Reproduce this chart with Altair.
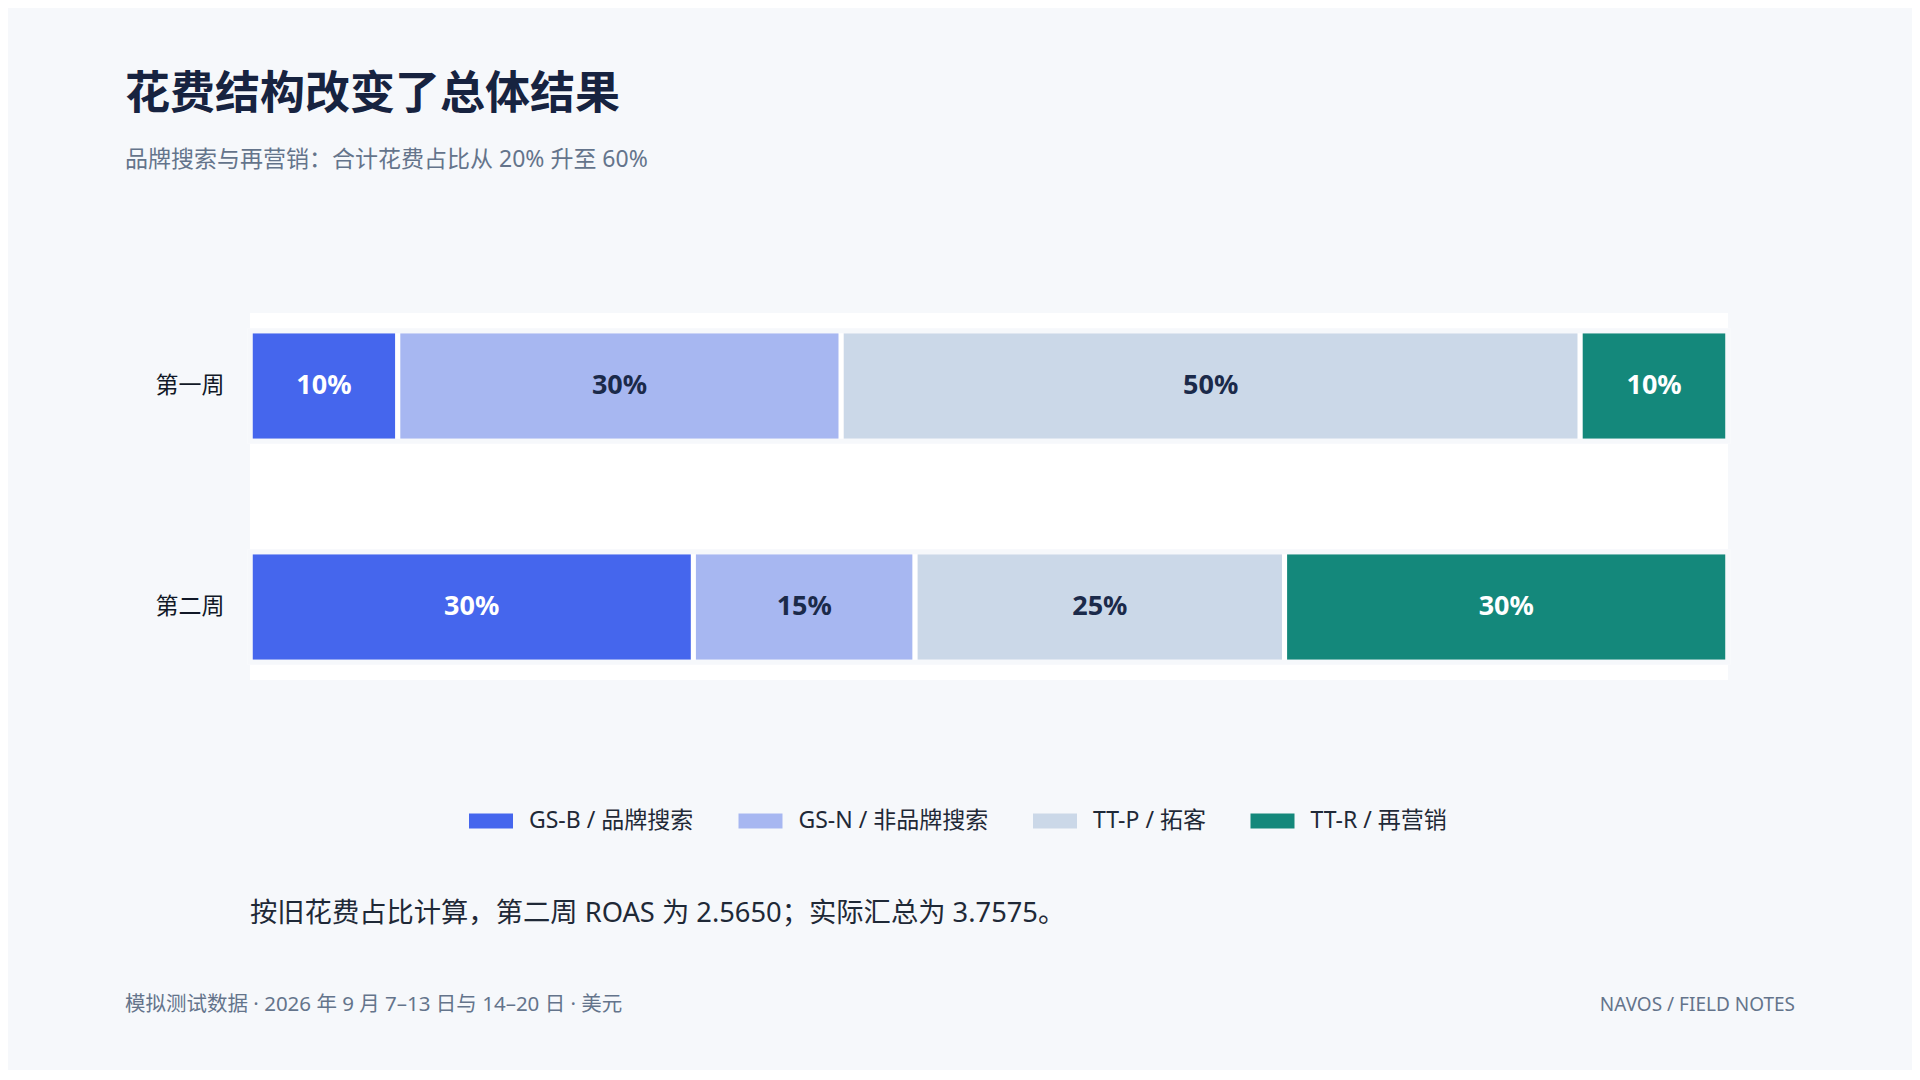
import pandas as pd
import altair as alt

weeks = ["第一周", "第二周"]
channels = ["GS-B / 品牌搜索", "GS-N / 非品牌搜索", "TT-P / 拓客", "TT-R / 再营销"]
week1_share = [10, 30, 50, 10]
week2_share = [30, 15, 25, 30]
colors = ["#4566ED", "#A7B7F1", "#CBD8E8", "#14887B"]
light_text = [channels[0], channels[3]]   # labels drawn in white

title = "花费结构改变了总体结果"
subtitle = "品牌搜索与再营销：合计花费占比从 20% 升至 60%"
note = "按旧花费占比计算，第二周 ROAS 为 2.5650；实际汇总为 3.7575。"
footer_left = "模拟测试数据 · 2026 年 9 月 7–13 日与 14–20 日 · 美元"
footer_right = "NAVOS / FIELD NOTES"

BG = "#F6F8FB"
INK = "#172340"
MUTED = "#64748B"
FONT = "'Noto Sans', 'Noto Sans CJK SC', sans-serif"

rows = []
for week, shares in zip(weeks, [week1_share, week2_share]):
    start = 0
    for i, (ch, s) in enumerate(zip(channels, shares)):
        rows.append({"week": week, "channel": ch, "order": i, "share": s,
                     "start": start, "end": start + s, "mid": start + s / 2,
                     "label": f"{s}%"})
        start += s
data = pd.DataFrame(rows)
tracks = pd.DataFrame({"week": weeks, "lo": [0, 0], "hi": [100, 100]})

xscale = alt.Scale(domain=[0, 100], nice=False)
yscale = alt.Scale(domain=weeks, paddingInner=0.5, paddingOuter=0.08)

segments = alt.Chart(data).mark_bar(stroke="white", strokeWidth=5).encode(
    x=alt.X("start:Q", scale=xscale, axis=None),
    x2="end:Q",
    y=alt.Y("week:N", scale=yscale, axis=alt.Axis(
        title=None, domain=False, ticks=False, labelPadding=26,
        labelFont=FONT, labelFontSize=23, labelColor="#111827")),
    color=alt.Color("channel:N", scale=alt.Scale(domain=channels, range=colors),
                    legend=alt.Legend(
                        title=None, orient="none", legendX=219, legendY=486,
                        direction="horizontal",
                        symbolType="M-1,-0.34L1,-0.34L1,0.34L-1,0.34Z",
                        symbolSize=1936, symbolStrokeWidth=0, symbolOpacity=1,
                        labelFont=FONT, labelFontSize=23, labelColor="#1F2937",
                        labelOffset=16, columnPadding=44.5, labelLimit=400)),
)

# outline in page colour hides the white stroke on the outer edges
track = alt.Chart(tracks).mark_bar(fillOpacity=0, stroke=BG, strokeWidth=5).encode(
    x=alt.X("lo:Q", scale=xscale, axis=None),
    x2="hi:Q",
    y=alt.Y("week:N", scale=yscale),
)

labels = alt.Chart(data).mark_text(font=FONT, fontSize=27, fontWeight="bold").encode(
    x=alt.X("mid:Q", scale=xscale, axis=None),
    y=alt.Y("week:N", scale=yscale),
    text="label:N",
    color=alt.condition(alt.FieldOneOfPredicate(field="channel", oneOf=light_text),
                        alt.value("white"), alt.value("#1B2A4A")),
)


def text_layer(txt, x, y, size, color, weight="normal", align="left"):
    return alt.Chart(pd.DataFrame({"t": [txt]})).mark_text(
        align=align, baseline="middle", font=FONT, fontSize=size,
        fontWeight=weight, color=color,
    ).encode(text="t:N", x=alt.value(x), y=alt.value(y))


chart = alt.layer(
    segments, track, labels,
    text_layer(title, -125, -218, 45, INK, weight="bold"),
    text_layer(subtitle, -125, -153, 23, MUTED),
    text_layer(note, 0, 601, 27.3, "#1F2937"),
    text_layer(footer_left, -125, 692, 20.5, MUTED),
    text_layer(footer_right, 1545, 692, 19, MUTED, align="right"),
).properties(
    width=1478, height=367,
    autosize=alt.AutoSizeParams(type="none"),
    padding={"left": 242, "top": 305, "right": 184, "bottom": 390},
    background=BG,
).configure_view(fill="white", strokeWidth=0)

chart.save("out.html", embed_options={"renderer": "svg", "actions": False})
